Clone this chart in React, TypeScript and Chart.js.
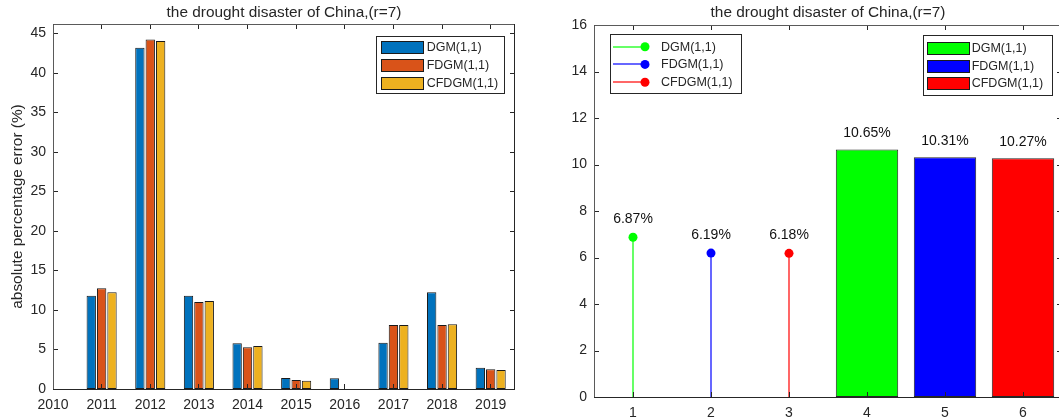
import React, { useEffect, useRef } from 'react';
import { Chart, registerables } from 'chart.js';

Chart.register(...registerables);

// ---------- data ----------
const years = [2010, 2011, 2012, 2013, 2014, 2015, 2016, 2017, 2018, 2019];
const seriesNames = ['DGM(1,1)', 'FDGM(1,1)', 'CFDGM(1,1)'];
const dgmErrors = [0, 11.8, 43.2, 11.8, 5.8, 1.4, 1.35, 5.85, 12.25, 2.7];
const fdgmErrors = [0, 12.75, 44.25, 11.0, 5.3, 1.15, 0, 8.1, 8.1, 2.5];
const cfdgmErrors = [0, 12.25, 44.05, 11.15, 5.45, 1.05, 0, 8.1, 8.2, 2.4];
const leftYTicks = [0, 5, 10, 15, 20, 25, 30, 35, 40, 45];

const stemPositions = [1, 2, 3];
const stemValues = [6.87, 6.19, 6.18];
const barPositions = [4, 5, 6];
const barValues = [10.65, 10.31, 10.27];
const rightXTicks = [1, 2, 3, 4, 5, 6];
const rightYTicks = [0, 2, 4, 6, 8, 10, 12, 14, 16];

const titleText = 'the drought disaster of China,(r=7)';
const yAxisLabel = 'absolute percentage error (%)';

// ---------- styles ----------
const FONT = '"Liberation Sans", Arial, Helvetica, sans-serif';
const TXT = '#262626';
const matlabColors = ['#0072BD', '#D95319', '#EDB120'];
const pureColors = ['#00FF00', '#0000FF', '#FF0000'];

function drawFrame(chart: any, xTicks: number[], yTicks: number[]) {
  const { ctx, chartArea, scales } = chart;
  const a = {
    left: Math.floor(chartArea.left),
    right: Math.floor(chartArea.right),
    top: Math.floor(chartArea.top),
    bottom: Math.floor(chartArea.bottom),
  };
  ctx.save();
  ctx.strokeStyle = TXT;
  ctx.lineWidth = 1;
  ctx.beginPath();
  for (const v of xTicks) {
    const px = Math.floor(scales.x.getPixelForValue(v)) + 0.5;
    ctx.moveTo(px, a.bottom);
    ctx.lineTo(px, a.bottom - 5);
    ctx.moveTo(px, a.top);
    ctx.lineTo(px, a.top + 5);
  }
  for (const v of yTicks) {
    const py = Math.round(scales.y.getPixelForValue(v)) + 0.5;
    ctx.moveTo(a.left, py);
    ctx.lineTo(a.left + 5, py);
    ctx.moveTo(a.right, py);
    ctx.lineTo(a.right - 5, py);
  }
  ctx.stroke();
  ctx.strokeStyle = '#5a5a5a';
  ctx.beginPath();
  ctx.moveTo(a.left + 0.5, a.bottom);
  ctx.lineTo(a.left + 0.5, a.top + 0.5);
  ctx.lineTo(a.right, a.top + 0.5);
  ctx.stroke();
  ctx.strokeStyle = TXT;
  ctx.beginPath();
  ctx.moveTo(a.left, a.bottom + 0.5);
  ctx.lineTo(a.right - 0.5, a.bottom + 0.5);
  ctx.lineTo(a.right - 0.5, a.top);
  ctx.stroke();
  ctx.restore();
}

function drawTitle(chart: any) {
  const { ctx, chartArea: a } = chart;
  ctx.save();
  ctx.fillStyle = TXT;
  ctx.font = `15.4px ${FONT}`;
  ctx.textAlign = 'center';
  ctx.textBaseline = 'middle';
  ctx.fillText(titleText, (a.left + a.right) / 2, 13);
  ctx.restore();
}

function legendBox(ctx: CanvasRenderingContext2D, x: number, y: number, w: number, h: number) {
  ctx.fillStyle = '#ffffff';
  ctx.fillRect(x, y, w, h);
  ctx.strokeStyle = TXT;
  ctx.lineWidth = 1;
  ctx.strokeRect(Math.round(x) + 0.5, Math.round(y) + 0.5, Math.round(w), Math.round(h));
}

function drawSwatchLegend(
  ctx: CanvasRenderingContext2D,
  box: { x: number; y: number; w: number; h: number },
  swX: number,
  swW: number,
  textX: number,
  rows: number[],
  colors: string[]
) {
  ctx.save();
  legendBox(ctx, box.x, box.y, box.w, box.h);
  ctx.font = `12.5px ${FONT}`;
  ctx.textBaseline = 'middle';
  ctx.textAlign = 'left';
  rows.forEach((ry, i) => {
    const x0 = Math.round(swX);
    const y0 = Math.round(ry - 6.3);
    const w = Math.round(swW);
    ctx.fillStyle = colors[i];
    ctx.fillRect(x0, y0, w, 13);
    ctx.strokeStyle = '#1a1a1a';
    ctx.strokeRect(x0 + 0.5, y0 + 0.5, w - 1, 12);
    ctx.fillStyle = TXT;
    ctx.fillText(seriesNames[i], textX, ry + 0.5);
  });
  ctx.restore();
}

const leftPlugin = {
  id: 'leftDecor',
  afterDatasetsDraw(chart: any) {
    drawFrame(chart, years, leftYTicks);
  },
  afterDraw(chart: any) {
    const { ctx, chartArea: a } = chart;
    drawTitle(chart);
    ctx.save();
    ctx.translate(18, (a.top + a.bottom) / 2);
    ctx.rotate(-Math.PI / 2);
    ctx.fillStyle = TXT;
    ctx.font = `15.4px ${FONT}`;
    ctx.textAlign = 'center';
    ctx.textBaseline = 'middle';
    ctx.fillText(yAxisLabel, 0, 0);
    ctx.restore();
    drawSwatchLegend(ctx, { x: 376, y: 36, w: 128, h: 57 }, 381, 42.5, 426.7, [47, 65.2, 83], matlabColors);
  },
};

const rightPlugin = {
  id: 'rightDecor',
  afterDatasetsDraw(chart: any) {
    drawFrame(chart, rightXTicks, rightYTicks);
  },
  afterDraw(chart: any) {
    const { ctx, scales } = chart;
    drawTitle(chart);
    ctx.save();
    ctx.fillStyle = '#111111';
    ctx.font = `14px ${FONT}`;
    ctx.textAlign = 'center';
    ctx.textBaseline = 'middle';
    stemPositions.forEach((x, i) => {
      const px = scales.x.getPixelForValue(x);
      const py = scales.y.getPixelForValue(stemValues[i]);
      ctx.fillText(stemValues[i].toFixed(2) + '%', px, py - 18);
    });
    barPositions.forEach((x, i) => {
      const px = scales.x.getPixelForValue(x);
      const py = scales.y.getPixelForValue(barValues[i]);
      ctx.fillText(barValues[i].toFixed(2) + '%', px, py - 16);
    });
    ctx.restore();

    // stem legend
    ctx.save();
    legendBox(ctx, 79.5, 34, 131, 59);
    ctx.font = `12.5px ${FONT}`;
    ctx.textBaseline = 'middle';
    ctx.textAlign = 'left';
    const rows = [46.7, 64.4, 82.3];
    rows.forEach((ry, i) => {
      ctx.strokeStyle = pureColors[i];
      ctx.lineWidth = 1.2;
      ctx.beginPath();
      ctx.moveTo(83, Math.round(ry));
      ctx.lineTo(115, Math.round(ry));
      ctx.stroke();
      ctx.fillStyle = pureColors[i];
      ctx.beginPath();
      ctx.arc(115, ry, 4.5, 0, Math.PI * 2);
      ctx.fill();
      ctx.fillStyle = TXT;
      ctx.fillText(seriesNames[i], 131, ry + 0.5);
    });
    ctx.restore();

    // bar legend
    drawSwatchLegend(ctx, { x: 392.7, y: 35, w: 129, h: 60 }, 397.3, 42.7, 441.7, [48.3, 66, 83.4], pureColors);
  },
};

function tickFont() {
  return { family: FONT, size: 14 };
}

export default function App() {
  const leftRef = useRef<HTMLCanvasElement>(null);
  const rightRef = useRef<HTMLCanvasElement>(null);

  useEffect(() => {
    const leftSeries = [dgmErrors, fdgmErrors, cfdgmErrors];
    const left = new Chart(leftRef.current as HTMLCanvasElement, {
      type: 'bar',
      data: {
        datasets: leftSeries.map((vals, si) => ({
          label: seriesNames[si],
          data: years.map((yr, i) => ({ x: yr, y: vals[i] })),
          backgroundColor: matlabColors[si],
          borderColor: '#1a1a1a',
          borderWidth: 1,
          borderSkipped: false,
          categoryPercentage: 0.64,
          barPercentage: 0.9,
        })),
      } as any,
      options: {
        animation: false,
        responsive: false,
        maintainAspectRatio: false,
        layout: { padding: { left: 0, top: 24, right: 15, bottom: 0 } },
        plugins: { legend: { display: false }, title: { display: false }, tooltip: { enabled: false } },
        scales: {
          x: {
            type: 'linear',
            min: 2010,
            max: 2019.5,
            offset: false,
            grid: { display: false, drawTicks: false },
            border: { display: false },
            ticks: {
              padding: 8,
              color: TXT,
              font: tickFont(),
              maxRotation: 0,
              autoSkip: false,
              callback: (v: any) => String(v),
            },
            afterBuildTicks: (s: any) => {
              s.ticks = years.map((v) => ({ value: v }));
            },
            afterFit: (s: any) => {
              s.height = 29;
            },
          },
          y: {
            type: 'linear',
            min: 0,
            max: 46.2,
            grid: { display: false, drawTicks: false },
            border: { display: false },
            ticks: { padding: 7, color: TXT, font: tickFont(), callback: (v: any) => String(v) },
            afterBuildTicks: (s: any) => {
              s.ticks = leftYTicks.map((v) => ({ value: v }));
            },
            afterFit: (s: any) => {
              s.width = 53;
            },
          },
        },
      } as any,
      plugins: [leftPlugin],
    });

    const stemDatasets = stemPositions.map((x, i) => ({
      type: 'line',
      label: seriesNames[i],
      data: [
        { x, y: 0 },
        { x, y: stemValues[i] },
      ],
      borderColor: pureColors[i],
      borderWidth: 1.2,
      pointRadius: [0, 4.5],
      pointBackgroundColor: pureColors[i],
      pointBorderWidth: 0,
      pointHoverRadius: 0,
      fill: false,
      tension: 0,
    }));

    const right = new Chart(rightRef.current as HTMLCanvasElement, {
      type: 'bar',
      data: {
        datasets: [
          {
            type: 'bar',
            label: 'bars',
            data: barPositions.map((x, i) => ({ x, y: barValues[i] })),
            backgroundColor: pureColors,
            borderColor: '#262626',
            borderWidth: 1,
            borderSkipped: false,
            grouped: false,
            barPercentage: 0.8,
            categoryPercentage: 1,
          },
          ...stemDatasets,
        ],
      } as any,
      options: {
        animation: false,
        responsive: false,
        maintainAspectRatio: false,
        layout: { padding: { left: 0, top: 25, right: 8, bottom: 0 } },
        plugins: { legend: { display: false }, title: { display: false }, tooltip: { enabled: false } },
        scales: {
          x: {
            type: 'linear',
            min: 0.5,
            max: 6.5,
            offset: false,
            grid: { display: false, drawTicks: false },
            border: { display: false },
            ticks: {
              padding: 8,
              color: TXT,
              font: tickFont(),
              maxRotation: 0,
              autoSkip: false,
              callback: (v: any) => String(v),
            },
            afterBuildTicks: (s: any) => {
              s.ticks = rightXTicks.map((v) => ({ value: v }));
            },
            afterFit: (s: any) => {
              s.height = 21;
            },
          },
          y: {
            type: 'linear',
            min: 0,
            max: 16,
            grid: { display: false, drawTicks: false },
            border: { display: false },
            ticks: { padding: 7, color: TXT, font: tickFont(), callback: (v: any) => String(v) },
            afterBuildTicks: (s: any) => {
              s.ticks = rightYTicks.map((v) => ({ value: v }));
            },
            afterFit: (s: any) => {
              s.width = 64;
            },
          },
        },
      } as any,
      plugins: [rightPlugin],
    });

    return () => {
      left.destroy();
      right.destroy();
    };
  }, []);

  return (
    <div
      style={{
        position: 'absolute',
        left: 0,
        top: 0,
        width: 1059,
        height: 418,
        overflow: 'hidden',
        background: '#ffffff',
      }}
    >
      <canvas
        ref={leftRef}
        width={530}
        height={418}
        style={{ position: 'absolute', left: 0, top: 0, width: 530, height: 418 }}
      />
      <canvas
        ref={rightRef}
        width={540}
        height={418}
        style={{ position: 'absolute', left: 530, top: 0, width: 540, height: 418 }}
      />
    </div>
  );
}
